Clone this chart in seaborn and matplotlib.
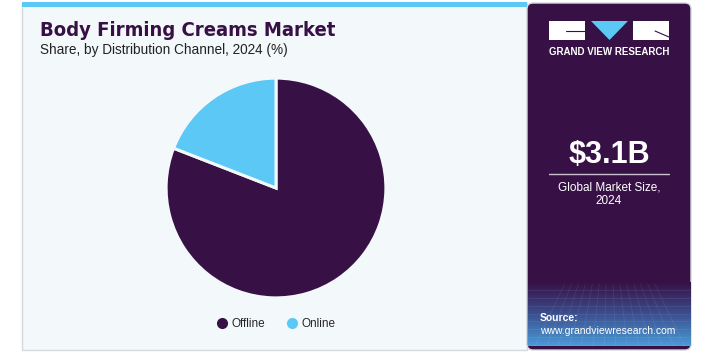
import numpy as np
import matplotlib.pyplot as plt
import seaborn as sns
from matplotlib.patches import Rectangle, FancyBboxPatch, Polygon
from matplotlib.lines import Line2D
from matplotlib.colors import LinearSegmentedColormap

# Datos del gráfico
channels = ['Offline', 'Online']
shares = [80.9, 19.1]
colors = ['#371146', '#5BC8F5']

sns.set_theme(style='white')
plt.rcParams['font.family'] = ['Liberation Sans', 'DejaVu Sans']

W, H = 715, 361
fig = plt.figure(figsize=(W / 100, H / 100), dpi=100)
fig.patch.set_facecolor('white')

# capa de fondo en coordenadas de píxeles
bg = fig.add_axes([0, 0, 1, 1])
bg.set_xlim(0, W)
bg.set_ylim(H, 0)
bg.axis('off')

# panel izquierdo
bg.add_patch(Rectangle((22, 3), 505, 347, facecolor='#F3F8FB', edgecolor='#D5D9DD', lw=1))
bg.add_patch(Rectangle((22, 2), 505, 5, facecolor='#5BC8F5', edgecolor='none'))

# panel derecho
bg.add_patch(FancyBboxPatch((527, 3), 164, 347, boxstyle='round,pad=0,rounding_size=6',
                            facecolor='#371146', edgecolor='#D5D9DD', lw=1))
grad = np.linspace(0, 1, 100).reshape(-1, 1)
cmap = LinearSegmentedColormap.from_list('g', ['#371146', '#3B4E8E', '#4A9AD6'])
bg.imshow(grad, aspect='auto', cmap=cmap, extent=(527.5, 690.5, 346, 282), zorder=1)
for yy in np.linspace(290, 345, 8):
    bg.plot([528, 690], [yy, yy], color='white', alpha=0.08, lw=0.6, zorder=2)
for xx in np.linspace(535, 685, 14):
    bg.plot([xx, 609 + (xx - 609) * 0.6], [346, 284], color='white', alpha=0.08, lw=0.6, zorder=2)

# logo
bg.add_patch(Rectangle((549, 21), 36, 19, facecolor='white', edgecolor='none', zorder=3))
bg.plot([566, 585], [31, 31], color='#371146', lw=0.8, zorder=4)
bg.add_patch(Polygon([[591, 21], [628, 21], [609.5, 40]], facecolor='#5BC8F5', edgecolor='none', zorder=3))
bg.add_patch(Rectangle((633, 21), 36, 19, facecolor='white', edgecolor='none', zorder=3))
bg.plot([655, 669], [31, 37], color='#371146', lw=0.8, zorder=4)
bg.text(609, 52, 'GRAND VIEW RESEARCH', color='white', fontsize=7, fontweight='bold',
        ha='center', va='center', zorder=4)

bg.text(609, 155, '$3.1B', color='white', fontsize=22, fontweight='bold', ha='center', va='center')
bg.plot([549, 669], [174, 174], color='#C9C0D0', lw=1)
bg.text(609, 187, 'Global Market Size,', color='white', fontsize=8.5, ha='center', va='center')
bg.text(609, 201, '2024', color='white', fontsize=8.5, ha='center', va='center')
bg.text(540, 318, 'Source:', color='white', fontsize=7.5, fontweight='bold', ha='left', va='center', zorder=4)
bg.text(540, 331, 'www.grandviewresearch.com', color='white', fontsize=7.5, ha='left', va='center', zorder=4)

# títulos
bg.text(40, 31, 'Body Firming Creams Market', color='#371146', fontsize=14.5, fontweight='bold',
        family=['DejaVu Sans'], fontstretch='condensed', ha='left', va='center')
bg.text(40, 50, 'Share, by Distribution Channel, 2024 (%)', color='#222222', fontsize=9.8,
        ha='left', va='center')

# gráfico de pastel
cx, cy, r = 276, 188, 111
ax = fig.add_axes([(cx - r) / W, (H - cy - r) / H, 2 * r / W, 2 * r / H])
ax.pie(shares, colors=colors, startangle=90 + shares[1] * 3.6, counterclock=True,
       wedgeprops=dict(edgecolor='#F3F8FB', linewidth=2.2), radius=1)
ax.set_xlim(-1.01, 1.01)
ax.set_ylim(-1.01, 1.01)
ax.set_aspect('equal')

# leyenda
handles = [Line2D([0], [0], marker='o', color='none', markerfacecolor=c, markeredgecolor='none',
                  markersize=8) for c in colors]
fig.legend(handles, channels, loc='center', bbox_to_anchor=(276 / W, 1 - 324 / H), ncol=2,
           frameon=False, fontsize=8.5, handletextpad=0.3, columnspacing=1.8, handlelength=1)

fig.savefig('out.png', dpi=100, facecolor='white')
